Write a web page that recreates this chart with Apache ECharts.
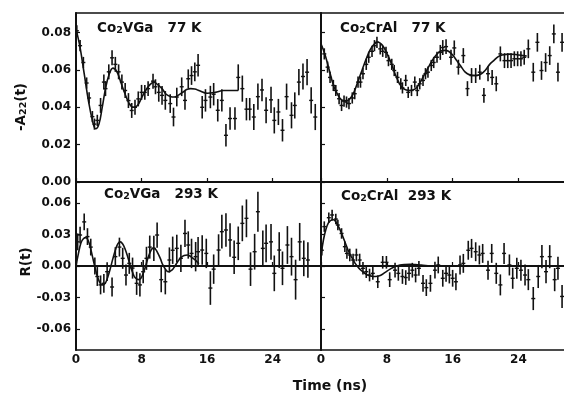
<!DOCTYPE html>
<html>
<head>
<meta charset="utf-8">
<script src="https://cdn.jsdelivr.net/npm/echarts@6/dist/echarts.min.js"></script>
<style>
  html, body { margin: 0; padding: 0; background: #fff; }
  #main { width: 564px; height: 402px; }
</style>
</head>
<body>
<div id="main"></div>
<script>
// tick labels
const timeTicks = [0, 8, 16, 24];
const a22Ticks = [0, 0.02, 0.04, 0.06, 0.08];
const rTicks = [-0.06, -0.03, 0, 0.03, 0.06];

// measured points: [time (ns), value, error]
const vga77Pts = [
  [0.1,0.081,0.003],[0.5,0.073,0.003],[0.9,0.064,0.003],[1.3,0.053,0.003],[1.6,0.045,0.003],
  [2.0,0.035,0.003],[2.25,0.031,0.003],[2.6,0.033,0.003],[3.0,0.041,0.004],[3.4,0.0535,0.004],
  [3.6,0.050,0.004],[4.0,0.059,0.004],[4.4,0.0665,0.004],[4.8,0.063,0.004],[5.2,0.059,0.004],
  [5.6,0.0535,0.004],[6.0,0.049,0.004],[6.4,0.0436,0.004],[6.8,0.0383,0.004],[7.2,0.040,0.004],
  [7.6,0.0445,0.004],[8.0,0.048,0.004],[8.4,0.048,0.004],[8.8,0.050,0.004],[9.4,0.054,0.004],
  [9.7,0.051,0.004],[10.1,0.048,0.005],[10.5,0.0464,0.005],[10.9,0.0437,0.005],[11.5,0.042,0.005],
  [11.9,0.0348,0.005],[12.3,0.0455,0.005],[12.9,0.051,0.005],[13.3,0.0437,0.005],[13.7,0.0553,0.005],
  [14.1,0.057,0.005],[14.5,0.059,0.005],[14.9,0.0625,0.006],[15.4,0.040,0.006],[15.8,0.0437,0.006],
  [16.4,0.0455,0.006],[16.8,0.047,0.006],[17.3,0.0384,0.006],[17.8,0.0437,0.006],[18.3,0.025,0.006],
  [18.8,0.034,0.006],[19.4,0.034,0.006],[19.8,0.056,0.007],[20.3,0.050,0.007],[20.8,0.039,0.006],
  [21.2,0.039,0.006],[21.7,0.0348,0.007],[22.2,0.0457,0.007],[22.7,0.0493,0.006],[23.2,0.0384,0.007],
  [23.8,0.044,0.007],[24.2,0.033,0.007],[24.7,0.0375,0.007],[25.2,0.0277,0.006],[25.7,0.0457,0.007],
  [26.3,0.0357,0.007],[26.7,0.041,0.007],[27.2,0.0535,0.007],[27.7,0.0565,0.007],[28.2,0.0588,0.007],
  [28.7,0.0437,0.007],[29.2,0.0348,0.007]
];
const cral77Pts = [
  [0.0,0.072,0.003],[0.4,0.0686,0.003],[0.8,0.0615,0.003],[1.1,0.056,0.003],[1.5,0.0517,0.003],
  [1.8,0.049,0.003],[2.2,0.0446,0.003],[2.5,0.041,0.003],[2.8,0.0433,0.003],[3.1,0.0428,0.003],
  [3.4,0.042,0.003],[3.8,0.045,0.003],[4.1,0.0473,0.003],[4.5,0.0535,0.003],[4.8,0.0535,0.003],
  [5.1,0.058,0.003],[5.5,0.063,0.003],[5.8,0.0668,0.003],[6.2,0.070,0.003],[6.5,0.073,0.003],
  [6.8,0.0748,0.003],[7.2,0.0713,0.003],[7.5,0.070,0.003],[7.9,0.0694,0.003],[8.2,0.065,0.003],
  [8.6,0.063,0.003],[8.9,0.0597,0.003],[9.3,0.056,0.003],[9.7,0.0526,0.003],[9.9,0.0504,0.003],
  [10.3,0.0544,0.003],[10.6,0.048,0.003],[11.0,0.049,0.003],[11.4,0.0535,0.003],[11.7,0.049,0.003],
  [12.0,0.0526,0.003],[12.4,0.0544,0.003],[12.7,0.058,0.003],[13.0,0.0588,0.003],[13.4,0.0624,0.003],
  [13.7,0.064,0.003],[14.1,0.0668,0.003],[14.5,0.0694,0.004],[14.8,0.072,0.004],[15.2,0.0725,0.004],
  [15.8,0.0668,0.004],[16.2,0.0718,0.004],[16.7,0.0615,0.004],[17.3,0.0677,0.004],[17.8,0.050,0.004],
  [18.3,0.057,0.004],[18.8,0.057,0.004],[19.3,0.0588,0.004],[19.8,0.0464,0.004],[20.3,0.058,0.004],
  [20.8,0.056,0.004],[21.3,0.0526,0.004],[21.8,0.0686,0.004],[22.3,0.065,0.004],[22.7,0.065,0.004],
  [23.1,0.065,0.004],[23.5,0.066,0.004],[23.9,0.066,0.004],[24.3,0.066,0.004],[24.7,0.0668,0.004],
  [25.2,0.0713,0.005],[25.8,0.0588,0.005],[26.3,0.0748,0.005],[26.8,0.0597,0.005],[27.3,0.064,0.005],
  [27.8,0.0677,0.005],[28.3,0.0793,0.005],[28.8,0.0588,0.005],[29.3,0.0748,0.005]
];
const vga293Pts = [
  [0.2,0.023,0.008],[0.5,0.0295,0.008],[1.0,0.042,0.008],[1.4,0.028,0.008],[1.8,0.018,0.008],
  [2.3,0.0,0.008],[2.6,-0.010,0.009],[3.0,-0.018,0.009],[3.4,-0.0165,0.009],[3.8,-0.0054,0.009],
  [4.4,-0.020,0.009],[4.8,0.0089,0.009],[5.3,0.018,0.009],[5.7,0.0073,0.010],[6.1,-0.0086,0.010],
  [6.5,0.0025,0.010],[6.9,-0.002,0.010],[7.4,-0.0165,0.011],[7.8,-0.018,0.011],[8.2,-0.0054,0.011],
  [8.6,0.0073,0.011],[9.0,0.018,0.011],[9.5,0.0168,0.012],[9.9,0.0295,0.012],[10.4,-0.013,0.012],
  [10.9,-0.015,0.012],[11.4,0.0057,0.012],[11.8,0.015,0.013],[12.3,0.0168,0.013],[12.8,0.0073,0.013],
  [13.3,0.031,0.013],[13.7,0.020,0.013],[14.1,0.012,0.014],[14.6,0.0089,0.014],[14.9,0.0136,0.014],
  [15.4,0.0152,0.014],[15.9,0.012,0.014],[16.4,-0.021,0.016],[16.8,-0.003,0.014],[17.4,0.0152,0.015],
  [17.8,0.0327,0.016],[18.3,0.0343,0.016],[18.8,0.0248,0.016],[19.3,0.0083,0.016],[19.8,0.0216,0.016],
  [20.3,0.0406,0.017],[20.8,0.0454,0.018],[21.3,-0.003,0.016],[21.8,0.0136,0.017],[22.2,0.0517,0.019],
  [22.8,0.0168,0.017],[23.2,0.0216,0.018],[23.8,0.023,0.017],[24.2,-0.007,0.017],[24.8,0.0152,0.017],
  [25.2,-0.0022,0.016],[25.8,0.020,0.018],[26.3,0.0089,0.018],[26.8,-0.013,0.019],[27.3,0.023,0.018],
  [27.8,0.0073,0.017],[28.3,0.0057,0.017]
];
const cral293Pts = [
  [0.1,0.015,0.005],[0.4,0.0375,0.005],[0.95,0.046,0.005],[1.35,0.0486,0.005],[1.8,0.0447,0.005],
  [2.05,0.039,0.005],[2.5,0.031,0.005],[2.9,0.0184,0.005],[3.15,0.012,0.005],[3.5,0.0105,0.006],
  [3.9,0.0057,0.006],[4.3,0.0105,0.006],[4.7,0.0057,0.006],[5.1,-0.0022,0.006],[5.5,-0.0054,0.006],
  [5.9,-0.0086,0.006],[6.3,-0.007,0.006],[6.9,-0.015,0.006],[7.5,0.0035,0.006],[7.95,0.0035,0.006],
  [8.35,-0.013,0.007],[9.0,-0.004,0.007],[9.4,-0.007,0.007],[9.9,-0.010,0.007],[10.3,-0.011,0.007],
  [10.7,-0.007,0.007],[11.1,-0.004,0.007],[11.5,-0.0086,0.007],[11.9,-0.0022,0.007],[12.4,-0.0165,0.008],
  [12.8,-0.0206,0.008],[13.3,-0.0165,0.008],[13.85,-0.004,0.008],[14.25,0.001,0.008],[14.8,-0.0117,0.008],
  [15.2,-0.007,0.008],[15.6,-0.0086,0.008],[16.0,-0.0117,0.008],[16.4,-0.015,0.008],[16.9,0.001,0.009],
  [17.3,0.0025,0.009],[17.9,0.015,0.009],[18.3,0.0168,0.009],[18.8,0.0136,0.009],[19.25,0.0105,0.009],
  [19.65,0.012,0.009],[20.3,-0.004,0.009],[20.75,0.012,0.009],[21.3,-0.007,0.010],[21.8,-0.018,0.010],
  [22.25,0.012,0.010],[22.9,0.001,0.010],[23.3,-0.0117,0.010],[23.8,-0.0022,0.010],[24.3,-0.004,0.010],
  [24.8,-0.0086,0.010],[25.2,-0.013,0.010],[25.8,-0.031,0.011],[26.4,-0.010,0.011],[26.85,0.0089,0.011],
  [27.35,-0.0054,0.011],[27.8,0.0089,0.011],[28.4,-0.013,0.011],[28.8,-0.0022,0.011],[29.3,-0.029,0.011]
];

// fitted curves: [time (ns), value]
const vga77Fit = [
  [0,0.082],[0.5,0.072],[1.0,0.058],[1.5,0.044],[2.0,0.033],[2.4,0.0285],[2.8,0.031],[3.2,0.040],
  [3.6,0.050],[4.0,0.057],[4.5,0.061],[5.0,0.059],[5.5,0.053],[6.0,0.047],[6.5,0.042],[7.0,0.040],
  [7.5,0.041],[8.0,0.045],[8.5,0.049],[9.0,0.052],[9.5,0.0535],[10.0,0.052],[10.5,0.050],[11.0,0.047],
  [11.5,0.0458],[12.0,0.0455],[12.5,0.0465],[13.0,0.048],[13.5,0.0495],[14.0,0.050],[14.5,0.0498],
  [15.0,0.049],[16.0,0.0475],[17.0,0.048],[18.0,0.049],[19.0,0.049],[19.8,0.049]
];
const cral77Fit = [
  [0,0.074],[0.5,0.068],[1.0,0.060],[1.5,0.052],[2.0,0.047],[2.5,0.044],[3.1,0.0435],[3.5,0.0445],
  [4.0,0.048],[4.5,0.054],[5.0,0.060],[5.5,0.066],[6.0,0.071],[6.5,0.074],[6.9,0.075],[7.5,0.073],
  [8.0,0.069],[8.5,0.064],[9.0,0.058],[9.5,0.053],[10.0,0.050],[10.8,0.049],[11.5,0.050],[12.0,0.053],
  [12.5,0.057],[13.0,0.061],[13.5,0.065],[14.0,0.068],[14.5,0.070],[15.1,0.0705],[15.5,0.070],
  [16.0,0.068],[16.5,0.065],[17.0,0.062],[17.5,0.059],[18.0,0.0575],[18.8,0.057],[19.5,0.058],
  [20.0,0.060],[20.5,0.063],[21.0,0.065],[21.5,0.067],[22.0,0.068],[23.0,0.0685],[24.0,0.068],[25.0,0.0675]
];
const vga293Fit = [
  [0,0.0],[0.3,0.012],[0.6,0.022],[0.9,0.026],[1.2,0.027],[1.5,0.024],[1.8,0.016],[2.1,0.006],
  [2.4,-0.004],[2.7,-0.012],[3.0,-0.017],[3.3,-0.018],[3.6,-0.016],[3.9,-0.010],[4.2,-0.002],
  [4.5,0.007],[4.8,0.015],[5.1,0.021],[5.4,0.023],[5.7,0.021],[6.0,0.016],[6.3,0.009],[6.6,0.001],
  [6.9,-0.006],[7.2,-0.011],[7.6,-0.013],[7.9,-0.012],[8.2,-0.007],[8.5,0.0],[8.8,0.008],[9.1,0.014],
  [9.4,0.017],[9.7,0.016],[10.0,0.012],[10.3,0.007],[10.6,0.001],[11.0,-0.004],[11.3,-0.0055],
  [11.7,-0.004],[12.0,-0.001],[12.4,0.004],[12.8,0.008],[13.2,0.010],[13.6,0.0105],[14.0,0.009],
  [14.5,0.006],[15.0,0.002]
];
const cral293Fit = [
  [0,0.010],[0.3,0.025],[0.6,0.035],[0.9,0.041],[1.2,0.0435],[1.5,0.044],[1.8,0.042],[2.1,0.038],
  [2.4,0.033],[2.7,0.027],[3.0,0.021],[3.3,0.015],[3.6,0.010],[3.9,0.006],[4.2,0.002],[4.6,-0.002],
  [5.0,-0.005],[5.5,-0.008],[6.0,-0.0095],[6.6,-0.010],[7.2,-0.009],[7.8,-0.006],[8.4,-0.003],
  [9.0,-0.0005],[9.6,0.001],[10.2,0.0015],[10.8,0.0016],[11.5,0.0013],[12.2,0.0008],[13.0,0.0003],
  [13.8,0.0],[14.4,-0.0003]
];

const font = 'DejaVu Sans';
const ink = '#111';

// vertical error bar plus short horizontal tick at the point
function errorBar(params, api) {
  const t = api.value(0), v = api.value(1), e = api.value(2);
  const hi = api.coord([t, v + e]);
  const lo = api.coord([t, v - e]);
  const mid = api.coord([t, v]);
  return {
    type: 'group',
    children: [
      { type: 'line', shape: { x1: hi[0], y1: hi[1], x2: lo[0], y2: lo[1] }, style: { stroke: ink, lineWidth: 1.6 } },
      { type: 'line', shape: { x1: mid[0] - 2, y1: mid[1], x2: mid[0] + 2, y2: mid[1] }, style: { stroke: ink, lineWidth: 1.4 } }
    ]
  };
}

const panels = [
  { pts: vga77Pts, fit: vga77Fit, ticks: a22Ticks, min: 0, max: 0.0905 },
  { pts: cral77Pts, fit: cral77Fit, ticks: a22Ticks, min: 0, max: 0.0905 },
  { pts: vga293Pts, fit: vga293Fit, ticks: rTicks, min: -0.08, max: 0.08 },
  { pts: cral293Pts, fit: cral293Fit, ticks: rTicks, min: -0.08, max: 0.08 }
];

const grids = [
  { left: 76, top: 13, width: 245, height: 169 },
  { left: 321, top: 13, width: 246, height: 169 },
  { left: 76, top: 182, width: 245, height: 168 },
  { left: 321, top: 182, width: 246, height: 168 }
].map(g => Object.assign({ show: true, borderColor: ink, borderWidth: 1.3, outerBoundsMode: 'none' }, g));

const labelStyle = { color: ink, fontFamily: font, fontWeight: 'bold', fontSize: 12 };

const xAxes = panels.map((p, i) => ({
  type: 'value', gridIndex: i, min: 0, max: 29.9,
  axisLine: { show: true, lineStyle: { color: ink, width: 2 } },
  splitLine: { show: false },
  axisTick: { show: true, inside: true, length: 4, customValues: timeTicks, lineStyle: { color: ink, width: 1.2 } },
  axisLabel: Object.assign({ show: i >= 2, customValues: timeTicks, margin: 4 }, labelStyle)
}));

const yAxes = panels.map((p, i) => ({
  type: 'value', gridIndex: i, min: p.min, max: p.max,
  axisLine: { show: true, lineStyle: { color: ink, width: 2 } },
  splitLine: { show: false },
  axisTick: { show: true, inside: true, length: 4, customValues: p.ticks, lineStyle: { color: ink, width: 1.2 } },
  axisLabel: Object.assign({ show: i % 2 === 0, customValues: p.ticks, margin: 5,
    formatter: v => v.toFixed(2) }, labelStyle)
}));

const series = [];
panels.forEach((p, i) => {
  const fit = {
    type: 'line', xAxisIndex: i, yAxisIndex: i, data: p.fit, smooth: 0.4,
    showSymbol: false, symbol: 'none', lineStyle: { color: ink, width: 1.6 }, z: 3
  };
  if (p.min < 0) {
    fit.markLine = {
      silent: true, symbol: 'none', label: { show: false },
      lineStyle: { color: ink, width: 1, type: 'solid' },
      data: [{ yAxis: 0 }]
    };
  }
  series.push(fit);
  series.push({
    type: 'custom', xAxisIndex: i, yAxisIndex: i, data: p.pts,
    renderItem: errorBar, encode: { x: 0, y: 1 }, clip: true, z: 4
  });
});

const txt = { fill: ink, fontFamily: font, fontWeight: 'bold', fontSize: 13.5, lineHeight: 16 };
const sub = { s: { fontFamily: font, fontWeight: 'bold', fontSize: 9.5, lineHeight: 8, verticalAlign: 'bottom' } };
function caption(x, y, text, extra) {
  return Object.assign({
    type: 'text', x: x, y: y,
    style: Object.assign({ text: text, rich: sub, align: 'left', verticalAlign: 'middle' }, txt)
  }, extra || {});
}

const graphic = [
  caption(97, 28, 'Co{s|2}VGa   77 K'),
  caption(340, 28, 'Co{s|2}CrAl   77 K'),
  caption(104, 194, 'Co{s|2}VGa   293 K'),
  caption(341, 196, 'Co{s|2}CrAl  293 K'),
  { type: 'text', x: 21, y: 107, rotation: Math.PI / 2,
    style: Object.assign({ text: '-A{s|22}(t)', rich: sub, align: 'center', verticalAlign: 'middle' }, txt) },
  { type: 'text', x: 26, y: 262, rotation: Math.PI / 2,
    style: Object.assign({ text: 'R(t)', align: 'center', verticalAlign: 'middle' }, txt) },
  { type: 'text', x: 330, y: 386,
    style: Object.assign({}, txt, { text: 'Time (ns)', fontSize: 14, align: 'center', verticalAlign: 'middle' }) }
];

const chart = echarts.init(document.getElementById('main'), null, { renderer: 'canvas' });
chart.setOption({
  animation: false,
  backgroundColor: '#fff',
  grid: grids,
  xAxis: xAxes,
  yAxis: yAxes,
  series: series,
  graphic: graphic
});
</script>
</body>
</html>
